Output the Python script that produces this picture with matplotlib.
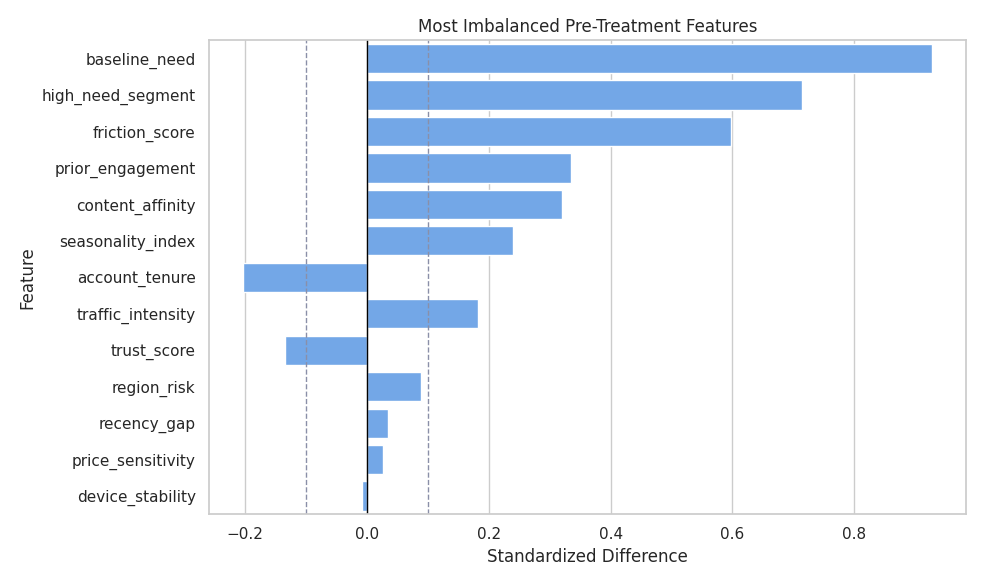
import matplotlib
matplotlib.use("Agg")
import matplotlib.pyplot as plt
import seaborn as sns

features = ["baseline_need", "high_need_segment", "friction_score", "prior_engagement",
            "content_affinity", "seasonality_index", "account_tenure", "traffic_intensity",
            "trust_score", "region_risk", "recency_gap", "price_sensitivity", "device_stability"]
std_diff = [0.927, 0.715, 0.597, 0.335, 0.321, 0.239, -0.203, 0.182,
            -0.135, 0.089, 0.034, 0.027, -0.008]

sns.set_theme(style="whitegrid")

fig, ax = plt.subplots(figsize=(9.84, 5.84), dpi=100)
sns.barplot(x=std_diff, y=features, color="#60a5fa", ax=ax, orient="h")
ax.axvline(0, color="black", linewidth=1)
ax.axvline(0.1, color="#8a8fa8", linestyle="--", linewidth=1)
ax.axvline(-0.1, color="#8a8fa8", linestyle="--", linewidth=1)
ax.set_title("Most Imbalanced Pre-Treatment Features")
ax.set_xlabel("Standardized Difference")
ax.set_ylabel("Feature")
ax.grid(axis="y", visible=False)

plt.tight_layout()
plt.savefig("out.png")
